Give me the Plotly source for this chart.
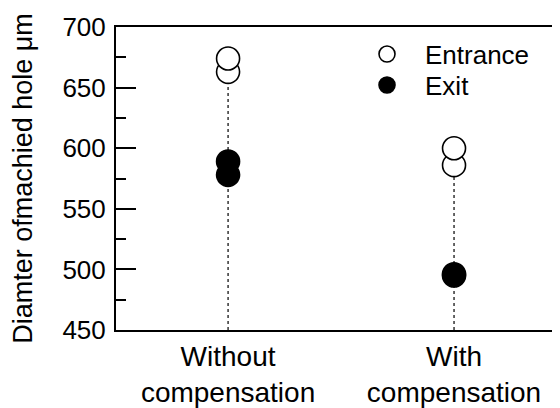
import plotly.graph_objects as go

categories = ["Without<br>compensation", "With<br>compensation"]
entrance_cat = [categories[0], categories[0], categories[1], categories[1]]
entrance_val = [663, 674, 586, 600]
exit_cat = [categories[0], categories[0], categories[1], categories[1]]
exit_val = [578, 589, 495, 496]
y_min, y_max = 450, 700

FONT = "Liberation Sans, Arial, sans-serif"
fig = go.Figure()

# dotted guide lines from axis to lowest entrance value
for c in categories:
    lowest = min(v for cc, v in zip(entrance_cat, entrance_val) if cc == c)
    fig.add_trace(go.Scatter(x=[c, c], y=[y_min, lowest], mode="lines",
                             line=dict(color="black", width=1.2, dash="dot"),
                             showlegend=False, hoverinfo="skip"))

fig.add_trace(go.Scatter(x=entrance_cat, y=entrance_val, mode="markers", name="Entrance",
                         legend="legend",
                         marker=dict(size=23, color="white", line=dict(color="black", width=1.6))))
fig.add_trace(go.Scatter(x=exit_cat, y=exit_val, mode="markers", name="Exit",
                         legend="legend2",
                         marker=dict(size=23, color="black", line=dict(color="black", width=1.6))))

leg_common = dict(xanchor="left", yanchor="top", bgcolor="rgba(0,0,0,0)",
                  itemwidth=66, itemsizing="trace", font=dict(size=26))

# page body has an 8px margin: figure is 552x400 so it ends at the window edge
fig.update_layout(
    width=552, height=400,
    margin=dict(l=108, r=0, t=19, b=78),
    paper_bgcolor="white", plot_bgcolor="white",
    font=dict(family=FONT, size=26, color="black"),
    legend=dict(x=0.5248, y=0.988, **leg_common),
    legend2=dict(x=0.5248, y=0.886, **leg_common),
    xaxis=dict(type="category", categoryorder="array", categoryarray=categories,
               range=[-0.496, 1.469], showgrid=False, zeroline=False, automargin=False,
               showline=True, linecolor="black", linewidth=2, mirror=True,
               ticks="", tickfont=dict(size=28)),
    yaxis=dict(range=[y_min, y_max], dtick=50, showgrid=False, zeroline=False, automargin=False,
               showline=True, linecolor="black", linewidth=2, mirror=False,
               ticks="inside", ticklen=20, tickwidth=2, tickcolor="black",
               minor=dict(dtick=25, ticks="inside", ticklen=10, tickwidth=2, tickcolor="black"),
               ticklabelstandoff=3, tickfont=dict(size=26),
               title=dict(text="Diamter ofmachied hole \u03bcm", font=dict(size=27), standoff=28)),
)

fig.write_html("out.html")
